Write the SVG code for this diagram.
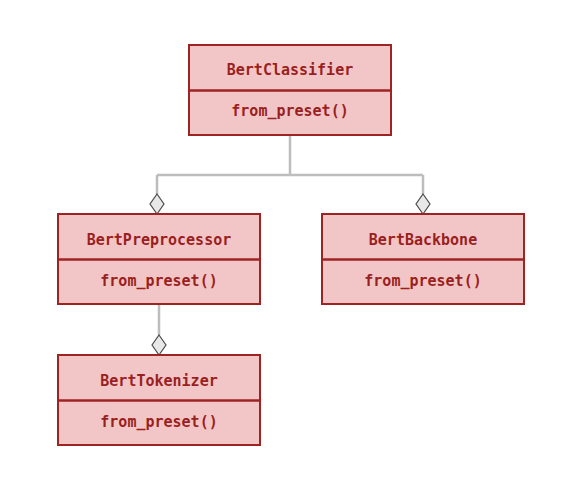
<svg xmlns="http://www.w3.org/2000/svg" width="579" height="492" viewBox="0 0 579 492">
<style>
.box{fill:#f2c6c7;stroke:#9e2424;stroke-width:2}
.div{stroke:#9e2424;stroke-width:2.5}
.t{font-family:"DejaVu Sans Mono","Liberation Mono",monospace;font-weight:bold;font-size:15px;fill:#9a1f1f;text-anchor:middle;dominant-baseline:central}
.c{fill:none;stroke:#bdbdbd;stroke-width:2.5}
.dia{fill:#e8e8e8;stroke:#4a4a4a;stroke-width:1.2}
</style>
<rect width="579" height="492" fill="#fff"/>
<g id="connectors">
<path class="c" d="M290 135 V175 M157 175 H423 M157 175 V194 M423 175 V194 M159 304 V335"/>
<polygon class="dia" points="157,194 164,204 157,214 150,204"/>
<polygon class="dia" points="423,194 430,204 423,214 416,204"/>
<polygon class="dia" points="159,335 166,345 159,355 152,345"/>
</g>
<g id="BertClassifier">
<rect class="box" x="189" y="45" width="202" height="90"/>
<line class="div" x1="189" y1="90.5" x2="391" y2="90.5"/>
<text class="t" x="290" y="70">BertClassifier</text>
<text class="t" x="290" y="111">from_preset()</text>
</g>
<g id="BertPreprocessor">
<rect class="box" x="58" y="214" width="202" height="90"/>
<line class="div" x1="58" y1="259.5" x2="260" y2="259.5"/>
<text class="t" x="159" y="240">BertPreprocessor</text>
<text class="t" x="159" y="281">from_preset()</text>
</g>
<g id="BertBackbone">
<rect class="box" x="322" y="214" width="202" height="90"/>
<line class="div" x1="322" y1="259.5" x2="524" y2="259.5"/>
<text class="t" x="423" y="240">BertBackbone</text>
<text class="t" x="423" y="281">from_preset()</text>
</g>
<g id="BertTokenizer">
<rect class="box" x="58" y="355" width="202" height="90"/>
<line class="div" x1="58" y1="400.5" x2="260" y2="400.5"/>
<text class="t" x="159" y="381">BertTokenizer</text>
<text class="t" x="159" y="422">from_preset()</text>
</g>
</svg>
